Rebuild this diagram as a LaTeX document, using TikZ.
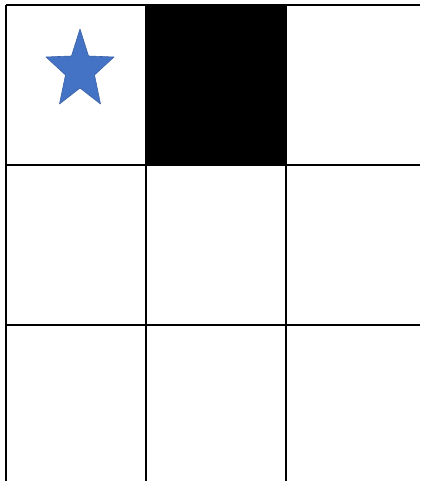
\documentclass[tikz,border=0pt]{standalone}
\definecolor{starblue}{HTML}{4472C4}
\tikzset{gridline/.style={line width=1.3pt, black}}
\begin{document}
\begin{tikzpicture}[x=1pt,y=-1pt]
\useasboundingbox (0,0) rectangle (420,481);
\fill[white] (0,0) rectangle (420,481);
% black cell
\fill[black] (146,5) rectangle (286,165);
% grid lines
\foreach \x in {6,146,286} \draw[gridline] (\x,5) -- (\x,481);
\foreach \y in {5,165,325} \draw[gridline] (6,\y) -- (420,\y);
% star
\fill[starblue, draw=starblue!85!black, line width=0.6pt, line join=round]
  (80,29) -- (88.5,56) -- (114,57) -- (94.5,75) -- (100.5,104) -- (80,88)
  -- (59.5,104) -- (65.5,75) -- (46,57) -- (71.5,56) -- cycle;
\end{tikzpicture}
\end{document}
